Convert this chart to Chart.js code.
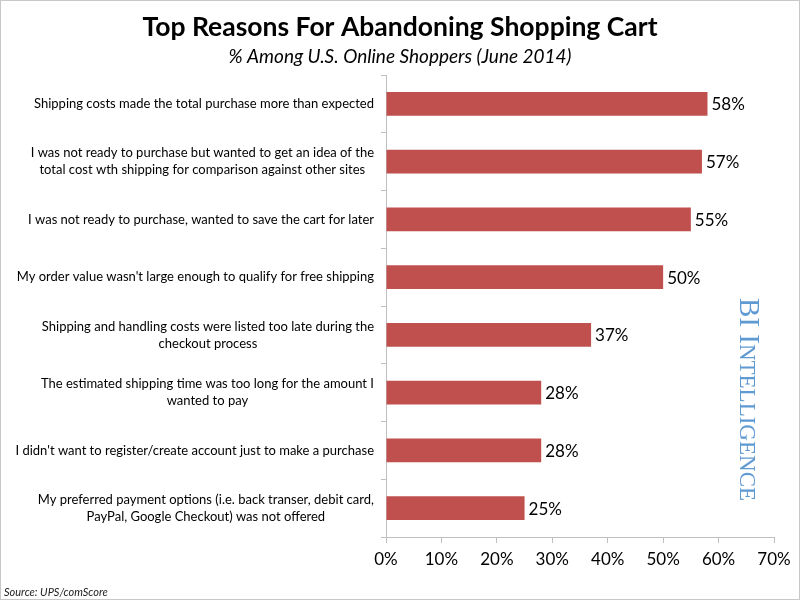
<!DOCTYPE html>
<html>
<head>
<meta charset="utf-8">
<script src="https://cdn.jsdelivr.net/npm/chart.js@4/dist/chart.umd.min.js"></script>
<style>
    html, body { margin: 0; padding: 0; background: #fff; }
    #wrap { width: 800px; height: 600px; position: relative; }
</style>
</head>
<body>
<div id="wrap"><canvas id="chart"></canvas></div>
<script>
    const categories = [
        ['Shipping costs made the total purchase more than expected'],
        ['I was not ready to purchase but wanted to get an idea of the', 'total cost wth shipping for comparison against other sites'],
        ['I was not ready to purchase, wanted to save the cart for later'],
        ['My order value wasn\'t large enough to qualify for free shipping'],
        ['Shipping and handling costs were listed too late during the', 'checkout process'],
        ['The estimated shipping time was too long for the amount I', 'wanted to pay'],
        ['I didn\'t want to register/create account just to make a purchase'],
        ['My preferred payment options (i.e. back transer, debit card,', 'PayPal, Google Checkout) was not offered']
    ];
    const shares = [58, 57, 55, 50, 37, 28, 28, 25];
    const xTicks = [0, 10, 20, 30, 40, 50, 60, 70];

    const titleText = 'Top Reasons For Abandoning Shopping Cart';
    const subtitleText = '% Among U.S. Online Shoppers (June 2014)';
    const sourceText = 'Source: UPS/comScore';

    const fontFamily = 'Lato, "Open Sans", sans-serif';
    const barColor = '#C0504D';
    const axisColor = '#BFBFBF';

    // background, frame, titles, watermark, source
    const decorPlugin = {
        id: 'decor',
        beforeDraw(chart) {
            const ctx = chart.ctx;
            ctx.save();
            ctx.fillStyle = '#fff';
            ctx.fillRect(0, 0, chart.width, chart.height);
            ctx.restore();
        },
        afterDraw(chart) {
            const ctx = chart.ctx;
            ctx.save();
            ctx.strokeStyle = '#C8C8C8';
            ctx.lineWidth = 1;
            ctx.strokeRect(0.5, 0.5, chart.width - 1, chart.height - 1);

            ctx.fillStyle = '#000';
            ctx.textAlign = 'center';
            ctx.textBaseline = 'middle';
            ctx.font = 'bold 26.5px ' + fontFamily;
            ctx.fillText(titleText, 400, 27);
            ctx.font = 'italic 19px ' + fontFamily;
            ctx.fillText(subtitleText, 400, 57);

            ctx.textAlign = 'left';
            ctx.textBaseline = 'alphabetic';
            ctx.font = 'italic 11px ' + fontFamily;
            ctx.fillStyle = '#222';
            ctx.fillText(sourceText, 4, 596);

            // BI Intelligence watermark, small caps drawn by hand
            ctx.translate(740, 298);
            ctx.rotate(Math.PI / 2);
            ctx.fillStyle = '#5F9AD3';
            ctx.textBaseline = 'alphabetic';
            const parts = [['BI I', '29px "Liberation Serif", serif'], ['NTELLIGENCE', '23px "Liberation Serif", serif']];
            let x = 0;
            parts.forEach(p => {
                ctx.font = p[1];
                ctx.fillText(p[0], x, 0);
                x += ctx.measureText(p[0]).width;
            });
            ctx.restore();
        }
    };

    // wrapped category labels, lines centred in a right-aligned block
    const labelPlugin = {
        id: 'catLabels',
        afterDraw(chart) {
            const ctx = chart.ctx;
            const yScale = chart.scales.y;
            const right = yScale.right - 12;
            const lineH = 17;
            ctx.save();
            ctx.font = '13px ' + fontFamily;
            ctx.fillStyle = '#000';
            ctx.textAlign = 'center';
            ctx.textBaseline = 'middle';
            categories.forEach((lines, i) => {
                const y = yScale.getPixelForValue(i);
                const blockW = Math.max(...lines.map(l => ctx.measureText(l).width));
                const cx = right - blockW / 2;
                const top = y - (lines.length - 1) * lineH / 2;
                lines.forEach((l, j) => ctx.fillText(l, cx, top + j * lineH));
            });
            ctx.restore();
        }
    };

    // value labels at the bar ends
    const valuePlugin = {
        id: 'values',
        afterDatasetsDraw(chart) {
            const ctx = chart.ctx;
            const meta = chart.getDatasetMeta(0);
            ctx.save();
            ctx.font = '17px ' + fontFamily;
            ctx.fillStyle = '#000';
            ctx.textAlign = 'left';
            ctx.textBaseline = 'middle';
            meta.data.forEach((bar, i) => {
                ctx.fillText(shares[i] + '%', bar.x + 4, bar.y + 1);
            });
            ctx.restore();
        }
    };

    const canvas = document.getElementById('chart');
    new Chart(canvas, {
        type: 'bar',
        data: {
            labels: categories.map(c => c.join(' ')),
            datasets: [{
                data: shares,
                backgroundColor: barColor,
                borderWidth: 0,
                categoryPercentage: 1,
                barPercentage: 0.41
            }]
        },
        options: {
            indexAxis: 'y',
            responsive: true,
            maintainAspectRatio: false,
            animation: false,
            devicePixelRatio: 1,
            layout: { padding: { top: 75, right: 26, left: 0, bottom: 0 } },
            plugins: {
                legend: { display: false },
                tooltip: { enabled: false },
                title: { display: false }
            },
            scales: {
                x: {
                    min: 0,
                    max: 70,
                    afterBuildTicks: s => { s.ticks = xTicks.map(v => ({ value: v })); },
                    afterFit: s => { s.height = 63; },
                    grid: {
                        drawOnChartArea: false,
                        drawTicks: true,
                        tickLength: 6,
                        color: axisColor
                    },
                    border: { display: true, color: axisColor, width: 1 },
                    ticks: {
                        color: '#000',
                        font: { family: fontFamily, size: 17 },
                        padding: 6,
                        maxRotation: 0,
                        callback: v => v + '%'
                    }
                },
                y: {
                    afterFit: s => { s.width = 386; },
                    grid: {
                        drawOnChartArea: false,
                        drawTicks: true,
                        tickLength: 5,
                        color: axisColor
                    },
                    border: { display: true, color: axisColor, width: 1 },
                    ticks: { display: false }
                }
            }
        },
        plugins: [decorPlugin, labelPlugin, valuePlugin]
    });
</script>
</body>
</html>
